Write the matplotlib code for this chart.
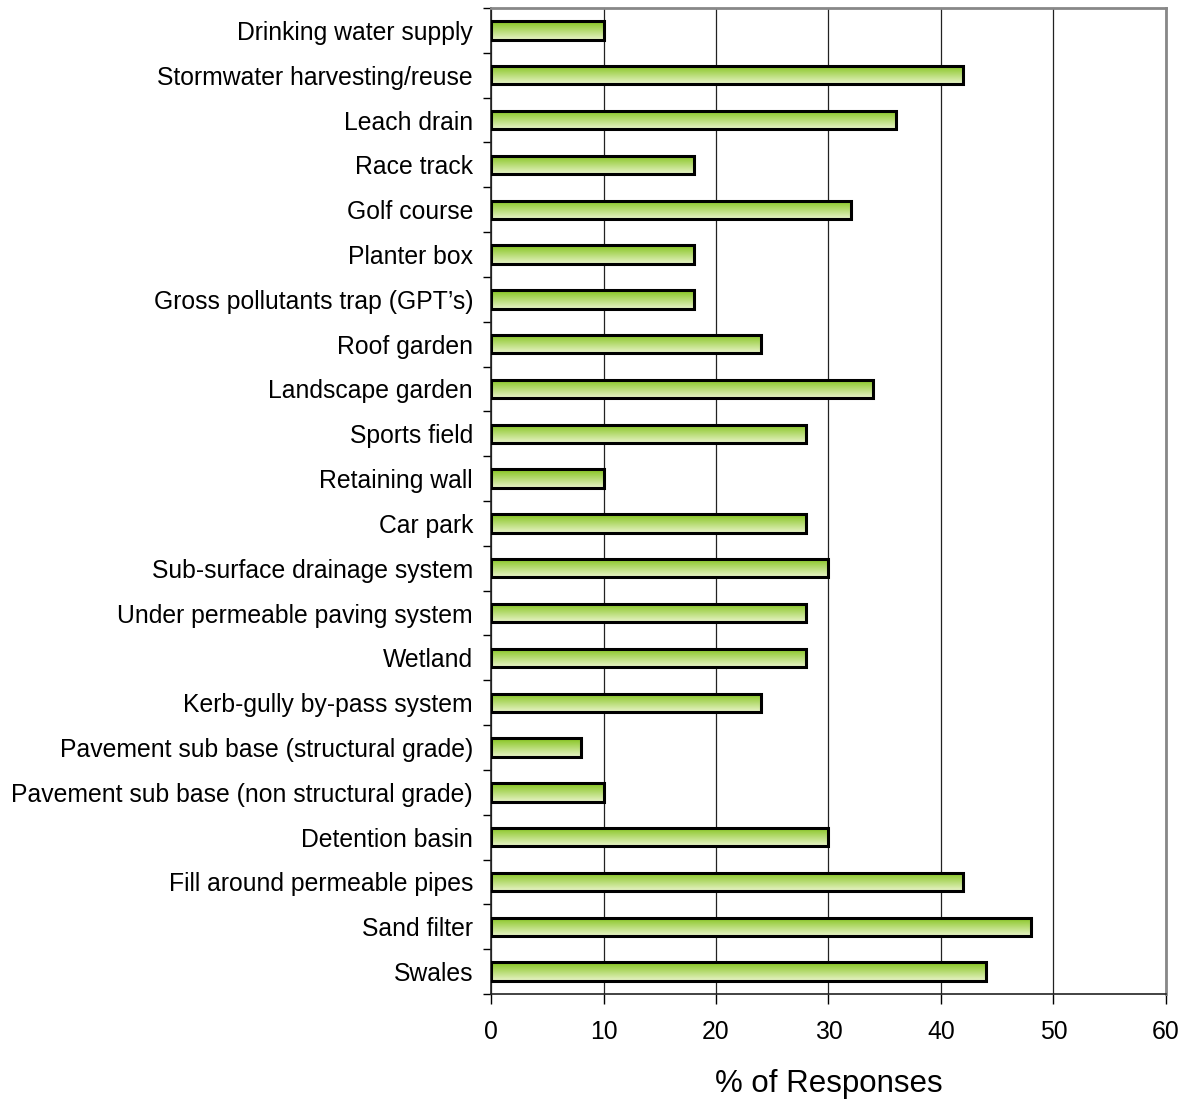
import numpy as np
import matplotlib
matplotlib.use('Agg')
from matplotlib import pyplot as plt
from matplotlib.colors import LinearSegmentedColormap

plt.rcParams['font.family'] = ['Liberation Sans', 'DejaVu Sans']

categories = ['Drinking water supply', 'Stormwater harvesting/reuse', 'Leach drain',
              'Race track', 'Golf course', 'Planter box', 'Gross pollutants trap (GPT\u2019s)',
              'Roof garden', 'Landscape garden', 'Sports field', 'Retaining wall', 'Car park',
              'Sub-surface drainage system', 'Under permeable paving system', 'Wetland',
              'Kerb-gully by-pass system', 'Pavement sub base (structural grade)',
              'Pavement sub base (non structural grade)', 'Detention basin',
              'Fill around permeable pipes', 'Sand filter', 'Swales']
values = [10, 42, 36, 18, 32, 18, 18, 24, 34, 28, 10, 28, 30, 28, 28, 24, 8, 10, 30, 42, 48, 44]
xticks = [0, 10, 20, 30, 40, 50, 60]

fig = plt.figure(figsize=(11.92, 10.99), dpi=100)
ax = fig.add_axes([0.412, 0.0955, 0.566, 0.8972])

n = len(categories)
pos = np.arange(n)[::-1]
bars = ax.barh(pos, values, height=0.41, color='none', edgecolor='black', linewidth=2.2, zorder=3)

# gradient fill: darker green at top, pale at bottom
cmap = LinearSegmentedColormap.from_list('g', ['#84c41c', '#e8f3c8'])
grad = np.linspace(0, 1, 100).reshape(-1, 1)
for b in bars:
    x0, y0 = b.get_x(), b.get_y()
    w, h = b.get_width(), b.get_height()
    im = ax.imshow(grad, cmap=cmap, aspect='auto', extent=[x0, x0 + w, y0, y0 + h],
                   origin='upper', zorder=2)
    im.set_clip_path(b)

ax.set_xlim(0, 60)
ax.set_ylim(-0.5, n - 0.5)
ax.set_xticks(xticks)
ax.set_yticks(pos)
ax.set_yticklabels(categories, fontsize=17.8)
ax.set_yticks(np.arange(-0.5, n, 1), minor=True)
ax.tick_params(axis='y', which='major', length=0, pad=13)
ax.tick_params(axis='y', which='minor', length=6, width=1, direction='out')
ax.tick_params(axis='x', length=7, width=1, direction='out', labelsize=17.8, pad=12)
ax.xaxis.grid(True, color='#222222', linewidth=0.9, zorder=0)
ax.set_axisbelow(True)
for s in ['top', 'right']:
    ax.spines[s].set_color('#888888')
    ax.spines[s].set_linewidth(2)
for s in ['left', 'bottom']:
    ax.spines[s].set_color('#222222')
    ax.spines[s].set_linewidth(1.2)
ax.set_xlabel('% of Responses', fontsize=22.5, labelpad=18)

fig.savefig('out.png', dpi=100)
